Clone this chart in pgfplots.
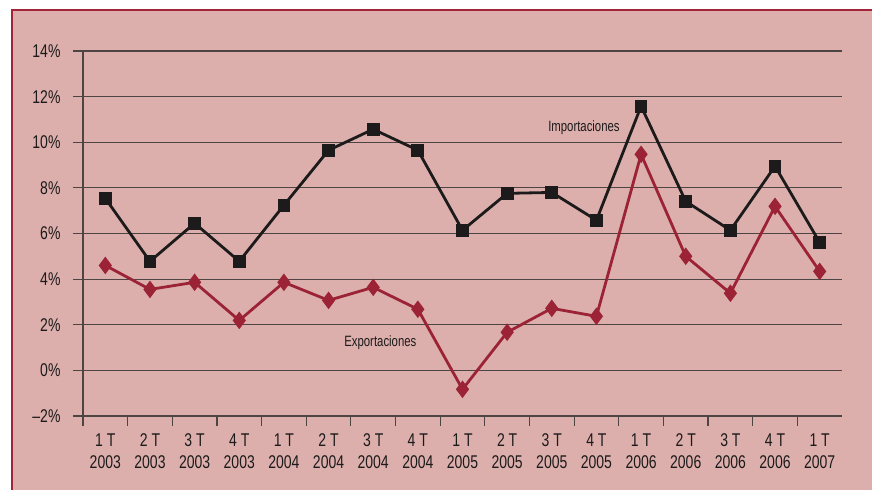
\documentclass[border=0pt]{standalone}
\usepackage{fontspec}
\setmainfont{Liberation Sans}[FakeStretch=0.76]
\usepackage{pgfplots}
\pgfplotsset{compat=1.18}

\definecolor{bgpink}{RGB}{220,175,172}
\definecolor{framered}{RGB}{163,36,56}
\definecolor{gridc}{RGB}{78,68,68}
\definecolor{expc}{RGB}{155,35,53}
\definecolor{impc}{RGB}{28,26,26}

\begin{document}
\begin{tikzpicture}
% page = 872 x 490, axis box lower left at (0,0)
\path[use as bounding box] (-83bp,-74bp) rectangle (789bp,416bp);
\fill[white] (-83bp,-74bp) rectangle (789bp,416bp);
\fill[bgpink] (-71bp,-74bp) rectangle (789bp,406bp);
\draw[framered, line width=2.2bp] (-71bp,-74bp) -- (-71bp,406bp) -- (789bp,406bp);

\begin{axis}[
    at={(0,0)}, anchor=south west,
    scale only axis, width=759bp, height=365bp,
    xmin=-0.5, xmax=16.5, ymin=-2, ymax=14,
    axis lines*=left,
    axis line style={draw=gridc, line width=1.2bp},
    every tick/.style={draw=gridc, line width=1.2bp},
    tick align=outside,
    major tick length=10bp, minor tick length=10bp,
    xtick={0,...,16},
    major x tick style={draw=none},
    minor xtick={-0.5,0.5,...,15.5},
    xticklabels={{1 T\\2003},{2 T\\2003},{3 T\\2003},{4 T\\2003},
                 {1 T\\2004},{2 T\\2004},{3 T\\2004},{4 T\\2004},
                 {1 T\\2005},{2 T\\2005},{3 T\\2005},{4 T\\2005},
                 {1 T\\2006},{2 T\\2006},{3 T\\2006},{4 T\\2006},
                 {1 T\\2007}},
    xticklabel style={align=center, font=\fontsize{18.5}{22}\selectfont, text=impc, yshift=-4bp},
    ytick={-2,0,...,14},
    yticklabels={--2\%,0\%,2\%,4\%,6\%,8\%,10\%,12\%,14\%},
    yticklabel style={font=\fontsize{18.5}{20}\selectfont, text=impc, xshift=-9bp},
    ymajorgrids,
    major grid style={draw=gridc, line width=1.2bp},
    clip=false,
]
\addplot[impc, line width=2.8bp, mark=square*, mark size=5bp,
         mark options={solid, fill=impc}] coordinates {
 (0,7.54) (1,4.78) (2,6.45) (3,4.78) (4,7.24) (5,9.65) (6,10.57) (7,9.65)
 (8,6.14) (9,7.76) (10,7.80) (11,6.58) (12,11.58) (13,7.41) (14,6.14)
 (15,8.95) (16,5.61)};
\addplot[expc, line width=2.8bp, mark=diamond*, mark size=6.5bp,
         mark options={solid, fill=expc}] coordinates {
 (0,4.60) (1,3.55) (2,3.86) (3,2.19) (4,3.86) (5,3.07) (6,3.64) (7,2.68)
 (8,-0.83) (9,1.67) (10,2.72) (11,2.37) (12,9.47) (13,5.00) (14,3.38)
 (15,7.19) (16,4.34)};
\node[font=\fontsize{15}{18}\selectfont, text=impc] at (axis cs:10.72,10.66) {Importaciones};
\node[font=\fontsize{15}{18}\selectfont, text=impc] at (axis cs:6.16,1.20) {Exportaciones};
\end{axis}
\end{tikzpicture}
\end{document}
